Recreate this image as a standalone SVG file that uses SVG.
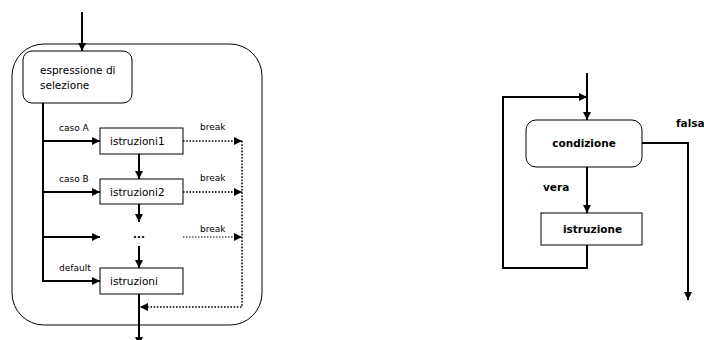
<svg xmlns="http://www.w3.org/2000/svg" width="704" height="340" viewBox="0 0 704 340">
<style>
text{font-family:"DejaVu Sans",Verdana,sans-serif;fill:#000}
.t{font-size:10.5px}
.l{font-size:9px}
.b{font-size:10.5px;font-weight:bold}
.box{fill:#fff;stroke:#000;stroke-width:1}
.ln{fill:none;stroke:#000;stroke-width:2}
.dt{fill:none;stroke:#000;stroke-width:1.6;stroke-dasharray:1.6 1.6}
.dt2{fill:none;stroke:#000;stroke-width:1;stroke-dasharray:1.5 1.5}
</style>
<defs>
<marker id="a" viewBox="0 0 10 10" refX="10" refY="5" markerWidth="8" markerHeight="8" markerUnits="userSpaceOnUse" orient="auto">
<path d="M0,0 L10,5 L0,10 z" fill="#000"/>
</marker>
</defs>
<rect fill="#fff" width="704" height="340"/>
<rect x="12" y="44" width="250" height="281" rx="32" fill="none" stroke="#000" stroke-width="1"/>
<g id="connectors">
<line class="ln" x1="82" y1="12" x2="82" y2="51" marker-end="url(#a)"/>
<line class="ln" x1="43" y1="103" x2="43" y2="281"/>
<line class="ln" x1="43" y1="141" x2="100" y2="141" marker-end="url(#a)"/>
<line class="ln" x1="43" y1="192" x2="100" y2="192" marker-end="url(#a)"/>
<line class="ln" x1="43" y1="237" x2="100" y2="237" marker-end="url(#a)"/>
<line class="ln" x1="42" y1="281" x2="100" y2="281" marker-end="url(#a)"/>
<line class="ln" x1="139" y1="154" x2="139" y2="179" marker-end="url(#a)"/>
<line class="ln" x1="139" y1="204" x2="139" y2="222" marker-end="url(#a)"/>
<line class="ln" x1="139" y1="246" x2="139" y2="268" marker-end="url(#a)"/>
<line class="ln" x1="139" y1="294" x2="139" y2="345" marker-end="url(#a)"/>
<line class="dt" x1="183" y1="141" x2="242" y2="141" marker-end="url(#a)"/>
<line class="dt" x1="183" y1="192" x2="242" y2="192" marker-end="url(#a)"/>
<line class="dt2" x1="183" y1="237" x2="242" y2="237" marker-end="url(#a)"/>
<polyline class="dt" points="242,141 242,307 140,307" marker-end="url(#a)"/>
<text class="l" x="59" y="131">caso A</text>
<text class="l" x="59" y="182">caso B</text>
<text class="l" x="59" y="271">default</text>
<text class="l" x="200" y="130">break</text>
<text class="l" x="200" y="181">break</text>
<text class="l" x="200" y="232">break</text>
<line class="ln" x1="587" y1="73" x2="587" y2="120" marker-end="url(#a)"/>
<polyline class="ln" points="587,245 587,268 503,268 503,97 587,97" marker-end="url(#a)"/>
<polyline class="ln" points="642,143 688,143 688,300" marker-end="url(#a)"/>
<line class="ln" x1="587" y1="167" x2="587" y2="213" marker-end="url(#a)"/>
<text class="b" x="543" y="191">vera</text>
<text class="b" x="676" y="127">falsa</text>
</g>
<g id="espressione">
<rect class="box" x="23" y="51" width="109" height="52" rx="9"/>
<text class="t" x="40" y="74">espressione di</text>
<text class="t" x="40" y="89">selezione</text>
</g>
<g id="istruzioni1">
<rect class="box" x="100" y="128" width="83" height="26"/>
<text class="t" x="110" y="145">istruzioni1</text>
</g>
<g id="istruzioni2">
<rect class="box" x="100" y="179" width="83" height="25"/>
<text class="t" x="110" y="196">istruzioni2</text>
</g>
<g id="dots">
<text class="b" x="139" y="238" text-anchor="middle">...</text>
</g>
<g id="istruzioni">
<rect class="box" x="100" y="268" width="83" height="26"/>
<text class="t" x="110" y="285">istruzioni</text>
</g>
<g id="condizione">
<rect class="box" x="526" y="120" width="116" height="47" rx="10"/>
<text class="b" x="584" y="147" text-anchor="middle">condizione</text>
</g>
<g id="istruzione">
<rect class="box" x="541" y="213" width="101" height="32"/>
<text class="b" x="563" y="233">istruzione</text>
</g>
</svg>
